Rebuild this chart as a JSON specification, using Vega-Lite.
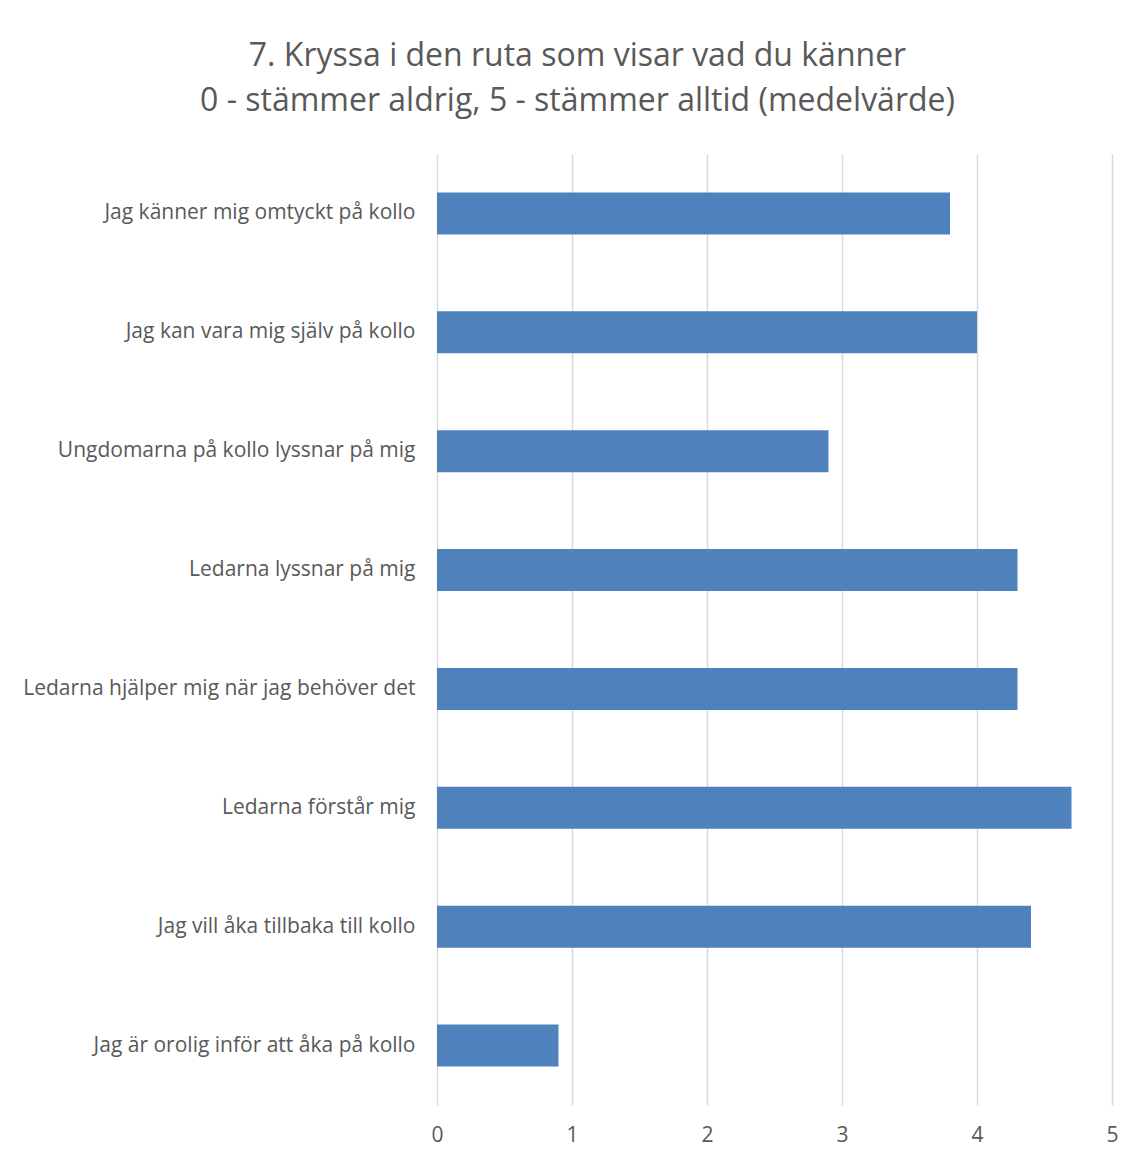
{
  "$schema": "https://vega.github.io/schema/vega-lite/v6.json",
  "description": "Kollo survey, question 7, mean score per statement.",
  "background": "white",
  "autosize": "none",
  "padding": {"left": 437, "top": 154, "right": 30, "bottom": 53},
  "width": 675,
  "height": 951,
  "title": {
    "text": ["7. Kryssa i den ruta som visar vad du känner", "0 - stämmer aldrig, 5 - stämmer alltid (medelvärde)"],
    "font": "Open Sans",
    "fontSize": 32,
    "fontWeight": "normal",
    "color": "#595959",
    "lineHeight": 45,
    "anchor": "middle",
    "dx": -197,
    "offset": 36
  },
  "data": {
    "values": [
      {"statement": "Jag känner mig omtyckt på kollo", "value": 3.8},
      {"statement": "Jag kan vara mig själv på kollo", "value": 4.0},
      {"statement": "Ungdomarna på kollo lyssnar på mig", "value": 2.9},
      {"statement": "Ledarna lyssnar på mig", "value": 4.3},
      {"statement": "Ledarna hjälper mig när jag behöver det", "value": 4.3},
      {"statement": "Ledarna förstår mig", "value": 4.7},
      {"statement": "Jag vill åka tillbaka till kollo", "value": 4.4},
      {"statement": "Jag är orolig inför att åka på kollo", "value": 0.9}
    ]
  },
  "mark": {"type": "bar", "color": "#4F81BD"},
  "encoding": {
    "y": {
      "field": "statement",
      "type": "nominal",
      "sort": null,
      "title": null,
      "scale": {"paddingInner": 0.647, "paddingOuter": 0.3235},
      "axis": {
        "domain": false,
        "ticks": false,
        "grid": false,
        "labelPadding": 22,
        "labelFontSize": 21,
        "labelLimit": 0
      }
    },
    "x": {
      "field": "value",
      "type": "quantitative",
      "title": null,
      "scale": {"domain": [0, 5], "nice": false},
      "axis": {
        "values": [0, 1, 2, 3, 4, 5],
        "domain": false,
        "ticks": false,
        "grid": true,
        "gridColor": "#D9D9D9",
        "gridWidth": 1.5,
        "labelFlush": false,
        "labelPadding": 19,
        "labelFontSize": 21
      }
    },
    "tooltip": [
      {"field": "statement", "type": "nominal", "title": "Påstående"},
      {"field": "value", "type": "quantitative", "title": "Medelvärde"}
    ]
  },
  "config": {
    "view": {"stroke": "transparent"},
    "axis": {"labelFont": "Open Sans", "labelColor": "#595959"}
  }
}
